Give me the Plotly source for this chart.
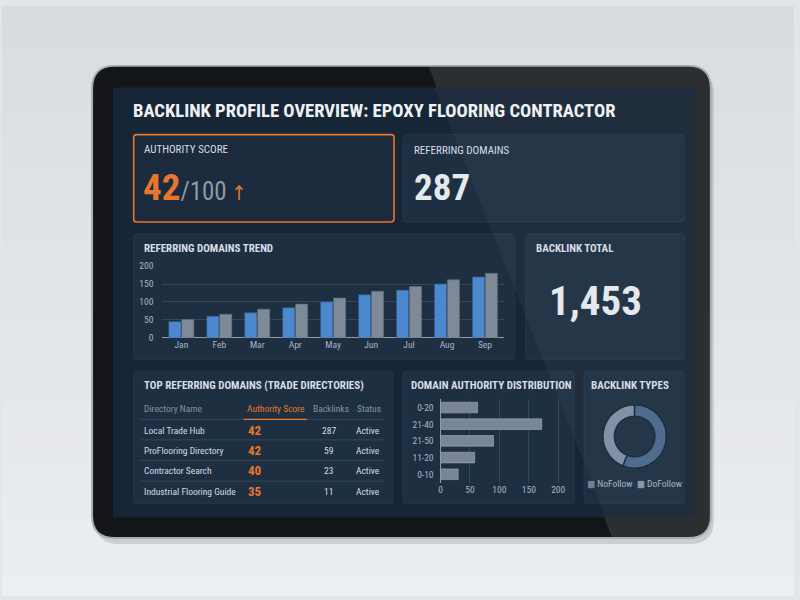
import plotly.graph_objects as go

# ---------------- data ----------------
months = ["Jan", "Feb", "Mar", "Apr", "May", "Jun", "Jul", "Aug", "Sep"]
domains_new = [45, 60, 70, 84, 100, 120, 133, 150, 170]
domains_total = [51, 66, 80, 94, 111, 130, 143, 162, 180]

da_buckets = ["0-20", "21-40", "21-50", "11-20", "0-10"]
da_counts = [63, 172, 90, 58, 30]

link_types = ["NoFollow", "DoFollow"]
link_share = [44, 56]

dir_names = ["Local Trade Hub", "ProFlooring Directory", "Contractor Search", "Industrial Flooring Guide"]
dir_scores = [42, 42, 40, 35]
dir_backlinks = [287, 59, 23, 11]
dir_status = ["Active", "Active", "Active", "Active"]
table_headers = ["Directory Name", "Authority Score", "Backlinks", "Status"]

authority_score = 42
authority_max = 100
referring_domains = 287
backlink_total = 1453

# ---------------- helpers ----------------
W, H = 800, 600
FONT = "Liberation Sans Narrow, Roboto Condensed, DejaVu Sans Condensed, Roboto, sans-serif"
ORANGE = "#e8762c"
BLUE = "#4b88cd"
GRAY = "#7e8a98"
CARD = "#1e2f42"
SCREEN = "#172636"
WHITE = "#e3e9ef"
LABEL = "#d6dde6"
TICK = "#aab5c3"


def X(x):
    return x / W


def Y(y):
    return 1 - y / H


def P(x, y):
    return f"{X(x):.5f},{Y(y):.5f}"


def rrect(x0, y0, x1, y1, r):
    return (f"M {P(x0 + r, y0)} L {P(x1 - r, y0)} Q {P(x1, y0)} {P(x1, y0 + r)} "
            f"L {P(x1, y1 - r)} Q {P(x1, y1)} {P(x1 - r, y1)} "
            f"L {P(x0 + r, y1)} Q {P(x0, y1)} {P(x0, y1 - r)} "
            f"L {P(x0, y0 + r)} Q {P(x0, y0)} {P(x0 + r, y0)} Z")


shapes = []


def add_path(path, fill, line_color=None, line_width=0):
    shapes.append(dict(type="path", xref="paper", yref="paper", path=path,
                       fillcolor=fill, line=dict(color=line_color or fill, width=line_width),
                       layer="below"))


# background soft vertical gradient (thin bands)
top_rgb = (216, 220, 224)
bot_rgb = (236, 238, 240)
nb = 40
for i in range(nb):
    t = i / (nb - 1)
    c = tuple(round(a + (b - a) * t) for a, b in zip(top_rgb, bot_rgb))
    y0 = i * H / nb
    y1 = (i + 1) * H / nb + 1
    add_path(f"M {P(0, y0)} L {P(800, y0)} L {P(800, y1)} L {P(0, y1)} Z", "rgb(%d,%d,%d)" % c)

# soft shadow under tablet
add_path(rrect(94, 66, 719, 548, 24), "rgba(60,65,72,0.18)")
# tablet rim + bezel
add_path(rrect(90, 60, 717, 543, 24), "#a9adb2")
add_path(rrect(92, 62, 715, 541, 22), "#131518")
# bezel reflection (right part)
r = 22
refl = (f"M {P(431, 62)} L {P(715 - r, 62)} Q {P(715, 62)} {P(715, 62 + r)} "
        f"L {P(715, 541 - r)} Q {P(715, 541)} {P(715 - r, 541)} L {P(616, 541)} Z")
add_path(refl, "rgba(255,255,255,0.11)")
# screen
add_path(rrect(112, 83, 700, 521, 3), SCREEN)

# cards
cards = [
    (133, 131, 396, 220),
    (405, 131, 689, 220),
    (133, 232, 518, 360),
    (529, 232, 689, 360),
    (133, 372, 395, 507),
    (405, 372, 578, 507),
    (588, 372, 689, 507),
]
for i, (a, b, c, d) in enumerate(cards):
    if i == 0:
        add_path(rrect(a, b, c, d, 3), "#1b2b3d", ORANGE, 1.6)
    else:
        add_path(rrect(a, b, c, d, 3), CARD, "#263a50", 0.8)

# screen reflection
add_path(f"M {P(437, 83)} L {P(700, 83)} L {P(700, 521)} L {P(610, 521)} Z", "rgba(255,255,255,0.035)")

# table separators
row_y = [432, 453, 473, 495]
sep_y = [421, 442, 463, 484]
for sy in sep_y:
    shapes.append(dict(type="line", xref="paper", yref="paper", x0=X(140), x1=X(386), y0=Y(sy), y1=Y(sy),
                       line=dict(color="#33475d", width=1), layer="below"))
shapes.append(dict(type="line", xref="paper", yref="paper", x0=X(244), x1=X(308), y0=Y(421), y1=Y(421),
                   line=dict(color=ORANGE, width=1.3), layer="above"))

# ---------------- traces ----------------
fig = go.Figure()
fig.add_trace(go.Bar(x=months, y=domains_new, marker=dict(color=BLUE, line=dict(color="#2f5f94", width=0.6)),
                     xaxis="x", yaxis="y", name="New"))
fig.add_trace(go.Bar(x=months, y=domains_total, marker=dict(color=GRAY, line=dict(color="#5e6976", width=0.6)),
                     xaxis="x", yaxis="y", name="Total"))
fig.add_trace(go.Bar(x=da_counts, y=da_buckets, orientation="h",
                     marker=dict(color="#7a8695", line=dict(color="#a3aebb", width=0.6)),
                     xaxis="x2", yaxis="y2", name="DA"))
# first slice (NoFollow) placed on the left half, ending at 12 o'clock
pie_rotation = -360.0 * link_share[0] / sum(link_share)
fig.add_trace(go.Pie(labels=link_types, values=link_share, hole=0.64, sort=False,
                     direction="clockwise", rotation=pie_rotation,
                     marker=dict(colors=["#8192a7", "#4f6b8d"], line=dict(color=CARD, width=1.5)),
                     textinfo="none", showlegend=False,
                     domain=dict(x=[X(607), X(671)], y=[Y(472), Y(405)])))

# ---------------- annotations ----------------
ann = []


def text(x, y, s, size, color, xanchor="left", bold=False):
    ann.append(dict(x=X(x), y=Y(y), xref="paper", yref="paper", text=f"<b>{s}</b>" if bold else s,
                    showarrow=False, xanchor=xanchor, yanchor="middle",
                    font=dict(family=FONT, size=size, color=color)))


text(130, 107, "BACKLINK PROFILE OVERVIEW: EPOXY FLOORING CONTRACTOR", 18.6, "#eef2f6", bold=True)
text(141, 146, "AUTHORITY SCORE", 11, LABEL)
text(414, 147, "REFERRING DOMAINS", 11, LABEL)
text(141, 247, "REFERRING DOMAINS TREND", 11, LABEL, bold=True)
text(537, 247, "BACKLINK TOTAL", 11, LABEL, bold=True)
text(141, 387, "TOP REFERRING DOMAINS (TRADE DIRECTORIES)", 11, LABEL, bold=True)
text(411, 387, "DOMAIN AUTHORITY DISTRIBUTION", 11, LABEL, bold=True)
text(634, 387, "BACKLINK TYPES", 11, LABEL, xanchor="center", bold=True)

ann.append(dict(x=X(140), y=Y(185), xref="paper", yref="paper", showarrow=False, xanchor="left", yanchor="middle",
                text=(f"<span style='font-size:37px;color:{ORANGE}'><b>{authority_score}</b></span>"
                      f"<span style='font-size:25px;color:#8d9aab'>/{authority_max}</span>"
                      f"<span style='font-size:20px;color:{ORANGE}'> ↑</span>"),
                font=dict(family=FONT, size=25, color="#8d9aab")))
text(414, 185, f"{referring_domains}", 37, WHITE, bold=True)
text(550, 301, f"{backlink_total:,}", 41, WHITE, bold=True)

# table
hx = [141, 245, 312, 357]
hcol = ["#8593a5", ORANGE, "#8593a5", "#8593a5"]
for hxx, h, c in zip(hx, table_headers, hcol):
    text(hxx, 410, h, 9.5, c)
for yy, name, sc, bl, st in zip(row_y, dir_names, dir_scores, dir_backlinks, dir_status):
    text(141, yy, name, 9.5, "#d3dbe4")
    text(246, yy, f"{sc}", 13, ORANGE, bold=True)
    text(330, yy, f"{bl}", 9.5, "#d3dbe4", xanchor="center")
    text(370, yy, st, 9.5, "#d3dbe4", xanchor="center")

# donut legend
ann.append(dict(x=X(639), y=Y(486), xref="paper", yref="paper", showarrow=False, xanchor="center", yanchor="middle",
                text=("<span style='color:#6f8096'>■</span> " + link_types[0] +
                      "  <span style='color:#8796aa'>■</span> " + link_types[1]),
                font=dict(family=FONT, size=9.5, color="#aab6c4")))

# ---------------- layout ----------------
tickfont = dict(family=FONT, size=9.5, color=TICK)
fig.update_layout(
    width=W, height=H, margin=dict(l=0, r=0, t=0, b=0),
    paper_bgcolor="#e3e6e9", plot_bgcolor="rgba(0,0,0,0)",
    barmode="group", bargap=0.32, bargroupgap=0.06,
    showlegend=False,
    shapes=shapes, annotations=ann,
    xaxis=dict(domain=[X(162), X(507)], anchor="y", showgrid=False, showline=False, ticks="",
               tickfont=tickfont, fixedrange=True),
    yaxis=dict(domain=[Y(338), Y(265)], anchor="x", range=[0, 200], dtick=50, gridcolor="#33465b",
               gridwidth=1, zeroline=True, zerolinecolor="#8e9bab", zerolinewidth=1.2, showline=False,
               ticks="", tickfont=tickfont, ticklabelstandoff=8),
    xaxis2=dict(domain=[X(443), X(563)], anchor="y2", range=[0, 202], tickvals=[0, 50, 100, 150, 200],
                gridcolor="#34475c", zeroline=False, showline=False, ticks="", tickfont=tickfont),
    yaxis2=dict(domain=[Y(485.5), Y(400.5)], anchor="x2", autorange="reversed", showline=True,
                linecolor="#8e9bab", linewidth=1.2, ticks="", tickfont=tickfont, ticklabelstandoff=4),
)

fig.write_html("out.html")
